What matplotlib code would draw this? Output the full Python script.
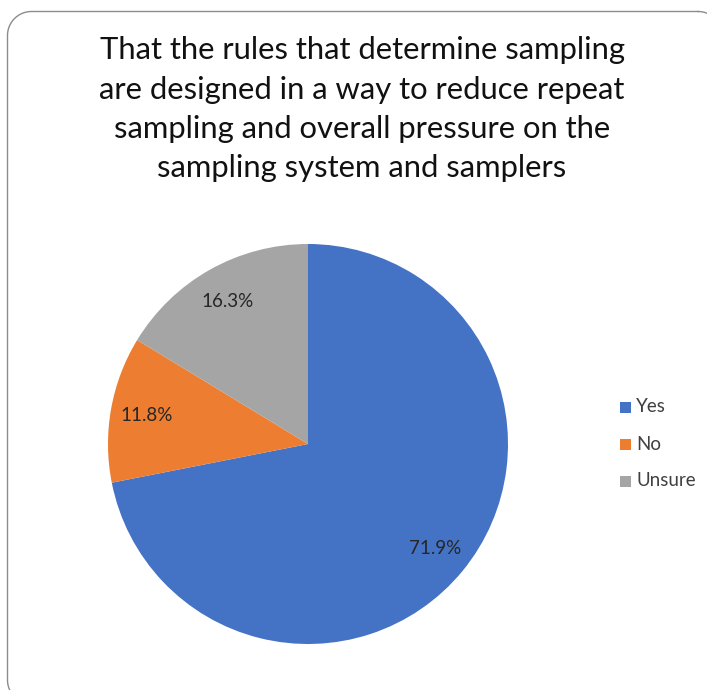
import numpy as np
import matplotlib
matplotlib.use("Agg")
import matplotlib.pyplot as plt
from matplotlib.patches import Rectangle

labels = ["Yes", "No", "Unsure"]
shares = [71.9, 11.8, 16.3]
colors = ["#4472C4", "#ED7D31", "#A5A5A5"]

title = ("That the rules that determine sampling\n"
         "are designed in a way to reduce repeat\n"
         "sampling and overall pressure on the\n"
         "sampling system and samplers")

plt.rcParams["font.family"] = ["Lato", "DejaVu Sans"]

W, H = 707, 690
fig = plt.figure(figsize=(W / 100, H / 100), dpi=100)

# background axes in pixel units (y down) for frame, title and legend
bg = fig.add_axes([0, 0, 1, 1])
bg.set_xlim(0, W)
bg.set_ylim(H, 0)
bg.axis("off")


def rounded_rect(x0, y0, x1, y1, rad, n=30):
    # corner arcs joined as one polyline (y axis points down)
    pts = []
    corners = [(x1 - rad, y0 + rad, -90, 0), (x1 - rad, y1 - rad, 0, 90),
               (x0 + rad, y1 - rad, 90, 180), (x0 + rad, y0 + rad, 180, 270)]
    for cx_, cy_, a0, a1 in corners:
        t = np.deg2rad(np.linspace(a0, a1, n))
        pts.append(np.column_stack([cx_ + rad * np.cos(t), cy_ + rad * np.sin(t)]))
    pts = np.vstack(pts + [pts[0][:1]])
    return pts[:, 0], pts[:, 1]


fx, fy = rounded_rect(7.5, 11.5, 722, 704, 24)
bg.plot(fx, fy, color="#8c8c8c", lw=1.0)

bg.text(362, 36, title, ha="center", va="top",
        fontsize=22.3, color="#111111", linespacing=1.5)

# legend
for i, (lab, c) in enumerate(zip(labels, colors)):
    y = 407 + i * 37
    bg.add_patch(Rectangle((620, y - 5.5), 11, 11, color=c, lw=0))
    bg.text(636, y, lab, ha="left", va="center",
            fontsize=13.5, color="#404040")

# pie
cx, cy, r = 308, 444, 200
ax = fig.add_axes([(cx - r) / W, 1 - (cy + r) / H, 2 * r / W, 2 * r / H])
wedges, _, pcts = ax.pie(shares, colors=colors, startangle=90, counterclock=False,
                         radius=1, wedgeprops=dict(linewidth=0),
                         autopct="%.1f%%", pctdistance=0.82,
                         textprops=dict(fontsize=13.5, color="#262626"))
ax.set_xlim(-1, 1)
ax.set_ylim(-1, 1)
ax.set_aspect("equal")
ax.axis("off")

fig.savefig("out.png", dpi=100)
